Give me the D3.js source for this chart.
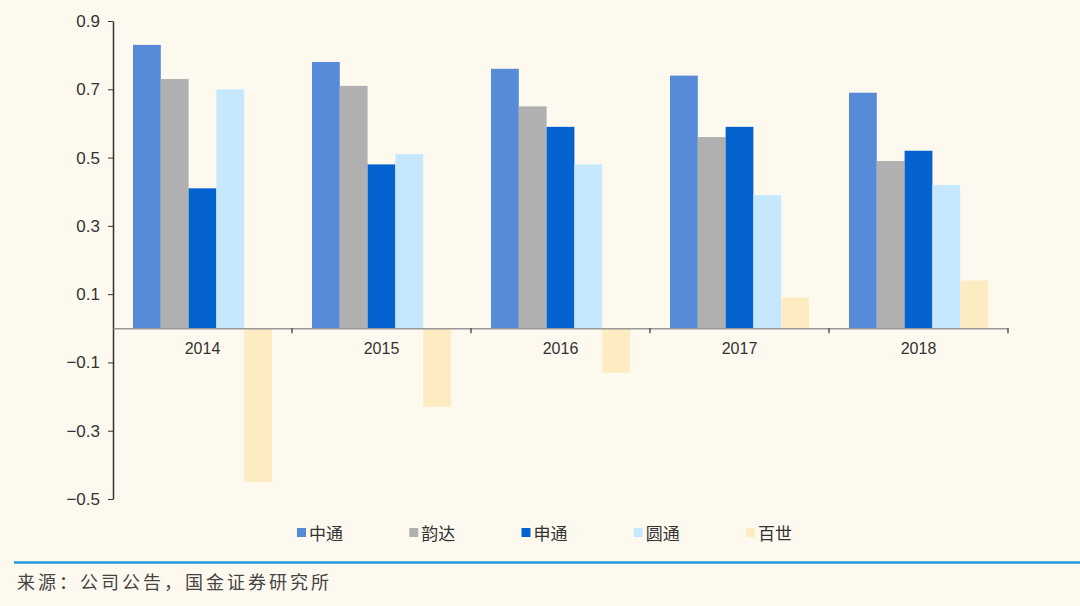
<!DOCTYPE html>
<html><head><meta charset="utf-8">
<script src="https://cdn.jsdelivr.net/npm/d3@7"></script>
<style>
html,body{margin:0;padding:0;background:#FEF9EF;}
svg{display:block;}
</style></head>
<body>
<svg id="chart" width="1080" height="606"></svg>
<script>
const years = ["2014","2015","2016","2017","2018"];
const seriesNames = ["中通","韵达","申通","圆通","百世"];
const ztoValues = [0.83,0.78,0.76,0.74,0.69];
const ydValues = [0.73,0.71,0.65,0.56,0.49];
const stoValues = [0.41,0.48,0.59,0.59,0.52];
const ytoValues = [0.70,0.51,0.48,0.39,0.42];
const bestValues = [-0.45,-0.23,-0.13,0.09,0.14];
const yTicks = [-0.5,-0.3,-0.1,0.1,0.3,0.5,0.7,0.9];
const colors = ["#578BD7","#B0B0B0","#0563CF","#C6E8FF","#FDEBC2"];

const allSeries = [ztoValues, ydValues, stoValues, ytoValues, bestValues];

const svg = d3.select("#chart");
const left = 113, right = 1008;
const y = d3.scaleLinear().domain([-0.5,0.9]).range([499,21]);
const x0 = d3.scaleBand().domain(years).range([left,right]).paddingInner(0).paddingOuter(0);
const x1 = d3.scaleBand().domain(seriesNames.map((d,i)=>i)).range([20, x0.bandwidth()-20]).padding(0);

// bars
const g = svg.append("g");
years.forEach((yr, yi) => {
  allSeries.forEach((vals, si) => {
    const v = vals[yi];
    g.append("rect")
      .attr("x", x0(yr) + x1(si))
      .attr("width", x1.bandwidth())
      .attr("y", y(Math.max(0, v)))
      .attr("height", Math.abs(y(v) - y(0)))
      .attr("fill", colors[si]);
  });
});

// y axis
const yAxis = d3.axisLeft(y).tickValues(yTicks).tickFormat(d3.format(".1f")).tickSize(5).tickSizeOuter(0);
const ya = svg.append("g").attr("transform", `translate(${left},0)`).call(yAxis);
ya.select(".domain").attr("stroke","#333").attr("stroke-width",1.5);
ya.selectAll(".tick line").attr("stroke","#333");
ya.selectAll(".tick text").attr("font-family","Liberation Sans, Arial, sans-serif").attr("font-size","17px").attr("fill","#333").attr("x",-13);

// x axis at zero
const xAxis = d3.axisBottom(x0).tickSize(0).tickSizeOuter(0);
const xa = svg.append("g").attr("transform", `translate(0,${y(0)})`).call(xAxis);
xa.select(".domain").attr("stroke","#999").attr("stroke-width",1.5);
xa.selectAll(".tick text").attr("font-family","Liberation Sans, Arial, sans-serif").attr("font-size","16px").attr("fill","#333").attr("y",14).attr("dy","0.71em");
// boundary ticks
const bounds = years.map(yr => x0(yr) + x0.bandwidth());
svg.append("g").selectAll("line").data(bounds).join("line")
  .attr("x1", d=>d).attr("x2", d=>d).attr("y1", y(0)).attr("y2", y(0)+5)
  .attr("stroke","#333").attr("stroke-width",1.2);

// legend
const legX = d3.scalePoint().domain(seriesNames.map((d,i)=>i)).range([297, 746]);
const leg = svg.append("g").selectAll("g").data(seriesNames).join("g")
  .attr("transform", (d,i)=>`translate(${legX(i)},534)`);
leg.append("rect").attr("x",0).attr("y",-6).attr("width",9).attr("height",9).attr("fill",(d,i)=>colors[i]);
leg.append("text").attr("x",12).attr("y",0).attr("dy","0.36em")
  .attr("font-family","Noto Sans CJK SC, sans-serif").attr("font-size","17px").attr("fill","#333").text(d=>d);

// footer
svg.append("line").attr("x1",14).attr("x2",1080).attr("y1",562.5).attr("y2",562.5).attr("stroke","#1E9BE0").attr("stroke-width",2.5);
svg.append("text").attr("x",17).attr("y",589)
  .attr("font-family","Noto Sans CJK SC, sans-serif").attr("font-size","18px").attr("letter-spacing","3px").attr("fill","#444")
  .text("来源：公司公告，国金证券研究所");
</script>
</body></html>
